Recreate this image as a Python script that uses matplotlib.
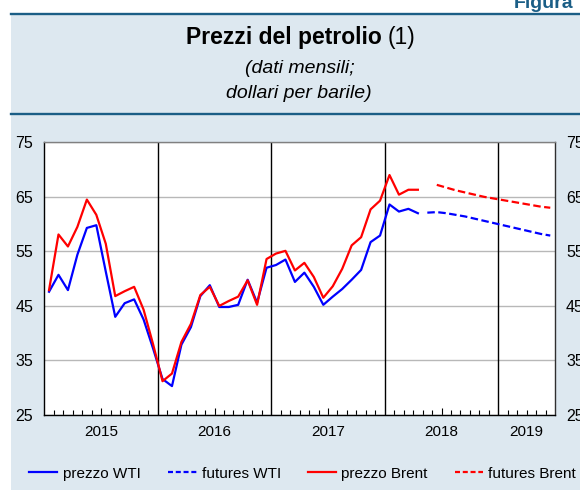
import matplotlib
matplotlib.use("Agg")
import matplotlib.pyplot as plt
from matplotlib.lines import Line2D
from matplotlib.patches import Rectangle
from matplotlib.ticker import FixedLocator
import matplotlib.transforms as mtransforms

plt.rcParams['font.family'] = ['Liberation Sans', 'DejaVu Sans']
plt.rcParams['lines.scale_dashes'] = False

# ---------------- data ----------------
# monthly averages, Jan 2015 - Apr 2018 (dollars per barrel)
wti_price = [47.6, 50.7, 47.9, 54.4, 59.3, 59.8, 51.3, 43.0, 45.5, 46.2, 42.5, 37.2,
             31.6, 30.3, 37.9, 41.1, 46.8, 48.8, 44.8, 44.8, 45.2, 49.8, 45.6, 52.0,
             52.5, 53.5, 49.4, 51.1, 48.5, 45.2, 46.7, 48.1, 49.8, 51.6, 56.7, 57.9,
             63.6, 62.3, 62.8, 62.0]
brent_price = [47.9, 58.1, 55.9, 59.5, 64.5, 61.7, 56.4, 46.8, 47.7, 48.5, 44.3, 38.0,
               31.2, 32.6, 38.4, 41.7, 47.0, 48.5, 45.0, 45.9, 46.7, 49.7, 45.2, 53.6,
               54.6, 55.1, 51.5, 52.9, 50.3, 46.5, 48.6, 51.8, 56.1, 57.6, 62.7, 64.3,
               69.0, 65.4, 66.3, 66.3]
# futures: WTI May 2018 - Jun 2019, Brent Jun 2018 - Jun 2019
wti_futures = [62.1, 62.2, 62.0, 61.7, 61.4, 61.0, 60.6, 60.2, 59.8, 59.4, 59.0, 58.6, 58.2, 57.9]
brent_futures = [67.2, 66.7, 66.2, 65.8, 65.4, 65.0, 64.7, 64.4, 64.1, 63.8, 63.5, 63.2, 63.0]
wti_futures_start = 40     # months after Jan 2015
brent_futures_start = 41
n_months = 54              # Jan 2015 - Jun 2019
years = ['2015', '2016', '2017', '2018', '2019']
y_ticks = [25, 35, 45, 55, 65, 75]
legend_labels = ['prezzo WTI', 'futures WTI', 'prezzo Brent', 'futures Brent']

# ---------------- figure ----------------
W, H = 580, 490
fig = plt.figure(figsize=(W / 100, H / 100), dpi=100)
fig.patch.set_facecolor('white')

panel = '#dde8f0'
dark = '#1b5e86'
fig.add_artist(Rectangle((11 / W, 0), 1 - 11 / W, 1 - 14 / H, transform=fig.transFigure,
                         facecolor=panel, edgecolor='none', zorder=0))
for yy in (14, 114):
    fig.add_artist(Line2D([11 / W, 1], [1 - yy / H] * 2, color=dark, lw=1.7, zorder=1))

fig.text(573 / W, 1 - 7.5 / H, 'Figura', ha='right', va='baseline', fontsize=14,
         weight='bold', color=dark)

# title (bold + normal part), centred at x=300 px
renderer = fig.canvas.get_renderer()
t1 = fig.text(0, 1 - 44 / H, 'Prezzi del petrolio', fontsize=16.5, weight='bold',
              ha='left', va='baseline')
t2 = fig.text(0, 1 - 44 / H, '(1)', fontsize=16.5, ha='left', va='baseline')
w1 = t1.get_window_extent(renderer).width
w2 = t2.get_window_extent(renderer).width
gap = 6
x0 = 301 - (w1 + gap + w2) / 2
t1.set_x(x0 / W)
t2.set_x((x0 + w1 + gap) / W)

fig.text(300 / W, 1 - 73 / H, '(dati mensili;', style='italic', fontsize=14,
         ha='center', va='baseline')
fig.text(299 / W, 1 - 98 / H, 'dollari per barile)', style='italic', fontsize=14,
         ha='center', va='baseline')

# ---------------- axes ----------------
L, R, T, B = 44.3, 555.0, 142.3, 415.0
ax = fig.add_axes([L / W, 1 - B / H, (R - L) / W, (B - T) / H])
ax.set_facecolor('white')
ax.set_xlim(0, n_months)
ax.set_ylim(y_ticks[0], y_ticks[-1])

ax.set_yticks(y_ticks)
ax.yaxis.grid(True, color='#b8b8b8', lw=1.0)
ax.set_axisbelow(True)
ax.tick_params(axis='y', length=0, labelsize=11.5, pad=8, labelleft=True, labelright=True)

for k in range(1, len(years)):
    ax.axvline(12 * k, color='black', lw=1.0, zorder=2)

ax.xaxis.set_major_locator(FixedLocator([6 + 12 * k for k in range(4)]))
ax.xaxis.set_minor_locator(FixedLocator([m for m in range(1, n_months) if m % 6 != 0]))
ax.tick_params(axis='x', which='major', direction='in', length=4.8, width=0.8,
               labelbottom=False)
ax.tick_params(axis='x', which='minor', direction='in', length=3.6, width=0.8)

trans = mtransforms.blended_transform_factory(ax.transData, ax.transAxes)
year_centres = [6 + 12 * k for k in range(4)] + [(48 + n_months) / 2]
for xc, lab in zip(year_centres, years):
    ax.text(xc, -21 / (B - T), lab, transform=trans, ha='center', va='baseline',
            fontsize=11)

for side, col in (('left', 'black'), ('bottom', 'black'), ('top', '#808080'),
                  ('right', '#303030')):
    ax.spines[side].set_color(col)
    ax.spines[side].set_linewidth(1.0)

blue, red = '#0000ff', '#ff0000'
dash = (0, (5.4, 2.5))
ax.plot([i + 0.5 for i in range(len(wti_price))], wti_price, color=blue, lw=1.6, zorder=3)
ax.plot([i + 0.5 for i in range(len(brent_price))], brent_price, color=red, lw=1.6, zorder=4)
ax.plot([wti_futures_start + i + 0.5 for i in range(len(wti_futures))], wti_futures,
        color=blue, lw=1.6, ls=dash, zorder=3)
ax.plot([brent_futures_start + i + 0.5 for i in range(len(brent_futures))], brent_futures,
        color=red, lw=1.6, ls=dash, zorder=4)

# ---------------- legend ----------------
leg_pos = [(29, 57, 63), (168, 197, 202), (308, 336, 341), (455, 483, 488)]
leg_style = [(blue, '-'), (blue, (0, (3.6, 2.0))), (red, '-'), (red, (0, (3.6, 2.0)))]
for (xa, xb, xt), (c, s), lab in zip(leg_pos, leg_style, legend_labels):
    fig.add_artist(Line2D([xa / W, xb / W], [1 - 472.3 / H] * 2, color=c, ls=s, lw=1.6))
    fig.text(xt / W, 1 - 477.5 / H, lab, fontsize=11, ha='left', va='baseline')

fig.savefig('out.png', dpi=100)
